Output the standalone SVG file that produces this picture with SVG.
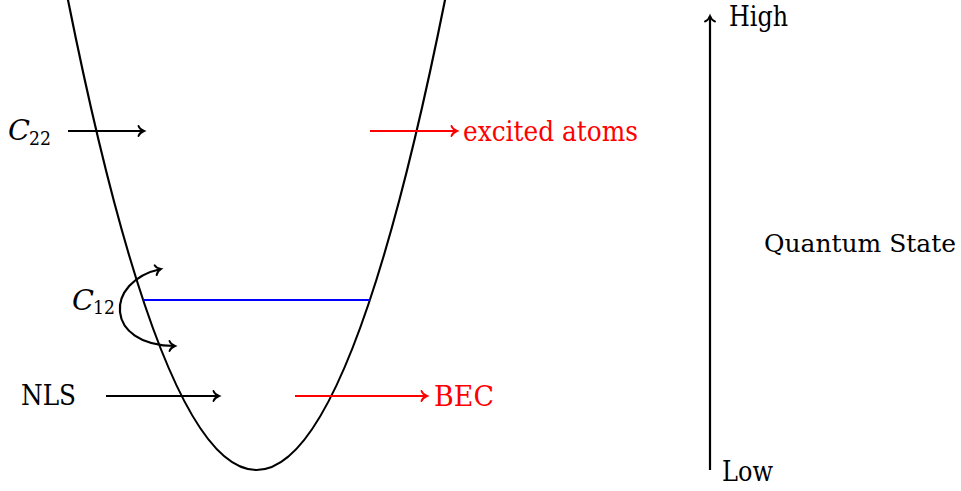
<svg xmlns="http://www.w3.org/2000/svg" width="961" height="491" viewBox="0 0 961 491">
<style>
.t{font-family:'DejaVu Serif','Liberation Serif',serif;font-size:27px;fill:#000}
.red{fill:#ff0000}
.it{font-style:italic}
.sub{font-size:19px}
.qs{font-size:24px}
.ln{fill:none;stroke:#000;stroke-width:2.2}
.lr{fill:none;stroke:#ff0000;stroke-width:2.2}
.lb{fill:none;stroke:#0000ff;stroke-width:2.2}
</style>
<defs>
<marker id="ah" markerUnits="userSpaceOnUse" orient="auto-start-reverse" refX="0" refY="0" markerWidth="12" markerHeight="12" overflow="visible">
<path d="M-5.5,-5 C-4.5,-2 -1.5,-0.6 0,0 C-1.5,0.6 -4.5,2 -5.5,5" fill="none" stroke="#000" stroke-width="1.9" stroke-linecap="round"/>
</marker>
<marker id="ahr" markerUnits="userSpaceOnUse" orient="auto-start-reverse" refX="0" refY="0" markerWidth="12" markerHeight="12" overflow="visible">
<path d="M-5.5,-5 C-4.5,-2 -1.5,-0.6 0,0 C-1.5,0.6 -4.5,2 -5.5,5" fill="none" stroke="#ff0000" stroke-width="1.9" stroke-linecap="round"/>
</marker>
</defs>
<g id="potential">
<path class="ln" d="M66,-10 Q256.5,950 447,-10"/>
</g>
<g id="level">
<line class="lb" x1="143" y1="300" x2="370" y2="300"/>
</g>
<g id="label-c22">
<text x="8" y="140" class="t it" textLength="22" lengthAdjust="spacingAndGlyphs">C</text><text x="29" y="145" class="t sub" textLength="22" lengthAdjust="spacingAndGlyphs">22</text>
</g>
<g id="label-c12">
<text x="72" y="310" class="t it" textLength="22" lengthAdjust="spacingAndGlyphs">C</text><text x="93" y="314" class="t sub" textLength="22" lengthAdjust="spacingAndGlyphs">12</text>
</g>
<g id="label-nls">
<text x="21" y="405" class="t" textLength="55" lengthAdjust="spacingAndGlyphs">NLS</text>
</g>
<g id="label-excited">
<text x="463" y="141" class="t red" textLength="175" lengthAdjust="spacingAndGlyphs">excited atoms</text>
</g>
<g id="label-bec">
<text x="434" y="406" class="t red" textLength="60" lengthAdjust="spacingAndGlyphs">BEC</text>
</g>
<g id="label-high">
<text x="729" y="26" class="t" textLength="59" lengthAdjust="spacingAndGlyphs">High</text>
</g>
<g id="label-low">
<text x="722" y="481" class="t" textLength="51" lengthAdjust="spacingAndGlyphs">Low</text>
</g>
<g id="label-quantum">
<text x="764" y="252" class="t qs" textLength="192" lengthAdjust="spacingAndGlyphs">Quantum State</text>
</g>
<g id="connectors">
<line class="ln" x1="68" y1="131" x2="144" y2="131" marker-end="url(#ah)"/>
<line class="lr" x1="370" y1="131" x2="457" y2="131" marker-end="url(#ahr)"/>
<line class="ln" x1="106" y1="396" x2="219" y2="396" marker-end="url(#ah)"/>
<line class="lr" x1="295" y1="396" x2="427" y2="396" marker-end="url(#ahr)"/>
<line class="ln" x1="710" y1="470" x2="710" y2="16" marker-end="url(#ah)"/>
<path class="ln" d="M161,269 C104,281 104,346 175,346" marker-start="url(#ah)" marker-end="url(#ah)"/>
</g>
</svg>
